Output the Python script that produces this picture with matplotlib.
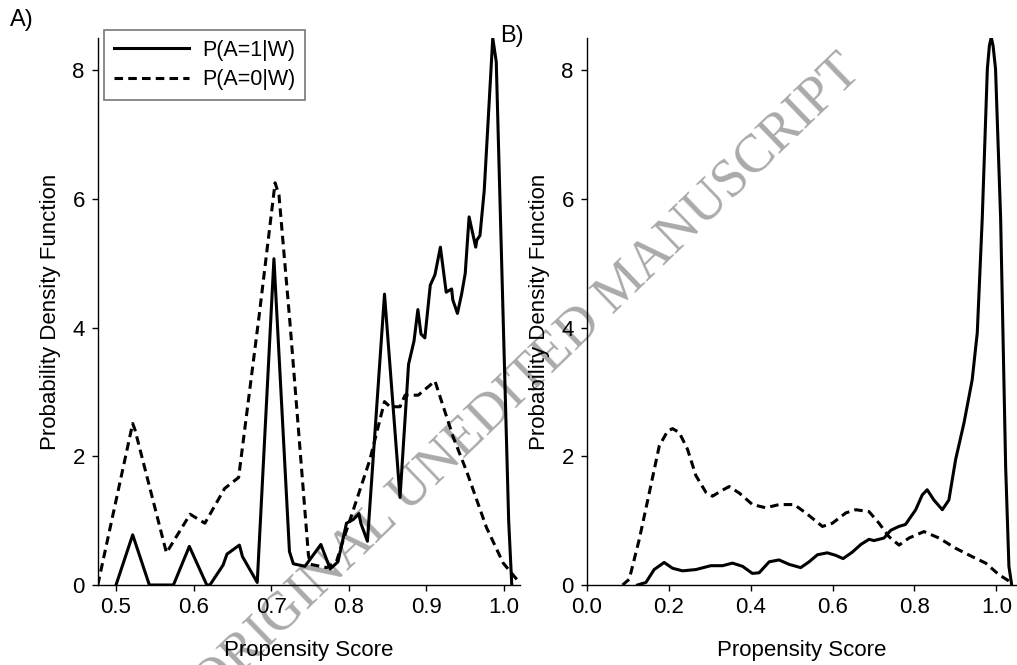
import matplotlib
matplotlib.use("Agg")
import matplotlib.pyplot as plt

plt.rcParams['font.family'] = ['Liberation Sans', 'DejaVu Sans']

# Panel A: raw density of the propensity score
a_treated_x = [0.500, 0.5215, 0.543, 0.574, 0.5945, 0.617, 0.621, 0.638, 0.643, 0.659,
               0.663, 0.682, 0.7035, 0.7235, 0.7285, 0.7435, 0.764, 0.776, 0.786, 0.797,
               0.806, 0.813, 0.8155, 0.824, 0.846, 0.866, 0.877, 0.884, 0.889, 0.893,
               0.898, 0.905, 0.911, 0.918, 0.9255, 0.9325, 0.934, 0.940, 0.9455, 0.950,
               0.955, 0.9635, 0.965, 0.969, 0.9745, 0.9855, 0.990, 0.999, 1.006, 1.010]
a_treated_y = [0.0, 0.78, 0.0, 0.0, 0.60, 0.0, 0.0, 0.31, 0.48, 0.62,
               0.44, 0.04, 5.07, 0.52, 0.33, 0.29, 0.63, 0.25, 0.36, 0.96,
               1.02, 1.11, 0.96, 0.68, 4.52, 1.36, 3.43, 3.79, 4.28, 3.90,
               3.84, 4.66, 4.82, 5.25, 4.55, 4.60, 4.43, 4.22, 4.53, 4.84,
               5.72, 5.25, 5.36, 5.43, 6.13, 8.50, 8.13, 4.10, 1.00, 0.0]

a_control_x = [0.4765, 0.5215, 0.5245, 0.565, 0.5955, 0.6145, 0.640, 0.658, 0.6845, 0.705,
               0.710, 0.724, 0.748, 0.751, 0.7715, 0.784, 0.7915, 0.8015, 0.827, 0.846,
               0.853, 0.866, 0.8725, 0.8895, 0.911, 0.9345, 0.952, 0.9775, 0.999, 1.010,
               1.0205]
a_control_y = [0.0, 2.51, 2.41, 0.50, 1.10, 0.96, 1.50, 1.67, 4.19, 6.25,
               6.06, 4.10, 0.46, 0.32, 0.27, 0.36, 0.65, 1.01, 1.94, 2.85,
               2.77, 2.77, 2.95, 2.95, 3.17, 2.30, 1.76, 0.89, 0.34, 0.18,
               0.03]

# Panel B: smoothed density
b_treated_x = [0.1235, 0.144, 0.164, 0.1885, 0.209, 0.2335, 0.266, 0.3025, 0.331, 0.3555,
               0.380, 0.404, 0.4205, 0.445, 0.469, 0.494, 0.522, 0.5425, 0.563, 0.587,
               0.608, 0.6255, 0.648, 0.669, 0.689, 0.701, 0.7255, 0.742, 0.762, 0.778,
               0.803, 0.819, 0.831, 0.8475, 0.868, 0.884, 0.9005, 0.921, 0.941, 0.9534,
               0.9655, 0.978, 0.983, 0.9875, 0.992, 0.998, 1.0105, 1.0145, 1.0227, 1.0307,
               1.0375]
b_treated_y = [0.0, 0.04, 0.24, 0.35, 0.26, 0.22, 0.24, 0.30, 0.30, 0.34,
               0.29, 0.18, 0.19, 0.36, 0.39, 0.32, 0.27, 0.36, 0.47, 0.50,
               0.46, 0.41, 0.51, 0.63, 0.71, 0.69, 0.73, 0.85, 0.91, 0.94,
               1.17, 1.40, 1.48, 1.32, 1.17, 1.32, 1.95, 2.52, 3.19, 3.92,
               5.69, 8.02, 8.38, 8.51, 8.38, 8.02, 5.69, 4.43, 1.84, 0.29,
               0.0]

b_control_x = [0.0869, 0.1032, 0.1277, 0.1521, 0.1765, 0.1967, 0.2089, 0.2253, 0.2455, 0.2660,
               0.2905, 0.3066, 0.3271, 0.3473, 0.3717, 0.4042, 0.4369, 0.4694, 0.5060, 0.5345,
               0.5751, 0.5995, 0.6322, 0.6566, 0.6890, 0.7134, 0.7378, 0.7622, 0.7866, 0.8232,
               0.8598, 0.9007, 0.9412, 0.9739, 1.0064, 1.0388]
b_control_y = [0.0, 0.09, 0.71, 1.43, 2.16, 2.39, 2.43, 2.37, 2.11, 1.70,
               1.44, 1.38, 1.46, 1.53, 1.43, 1.25, 1.20, 1.25, 1.25, 1.12,
               0.91, 0.96, 1.12, 1.17, 1.14, 0.96, 0.75, 0.62, 0.73, 0.83,
               0.73, 0.57, 0.44, 0.34, 0.16, 0.03]

labels = ['P(A=1|W)', 'P(A=0|W)']

W, H = 1017, 665
fig = plt.figure(figsize=(W / 100, H / 100), dpi=100)
axA = fig.add_axes([98 / W, 80 / H, (520 - 98) / W, 547 / H])
axB = fig.add_axes([587 / W, 80 / H, (1016 - 587) / W, 547 / H])

dash = (0, (2.8, 1.7))
lw = 2.2
fs = 16

for ax in (axA, axB):
    ax.set_facecolor('none')
    for s in ('top', 'right'):
        ax.spines[s].set_visible(False)
    for s in ('left', 'bottom'):
        ax.spines[s].set_linewidth(1.0)
    ax.tick_params(direction='out', length=4.5, width=1.0, labelsize=fs, pad=4)
    ax.tick_params(axis='y', pad=5)
    ax.set_ylim(0, 8.5)
    ax.set_yticks([0, 2, 4, 6, 8])
    ax.set_xlabel('Propensity Score', fontsize=fs, labelpad=16)
    ax.set_ylabel('Probability Density Function', fontsize=fs, labelpad=8)

axA.plot(a_treated_x, a_treated_y, color='black', lw=lw, label=labels[0])
axA.plot(a_control_x, a_control_y, color='black', lw=lw, ls=dash, label=labels[1])
axA.set_xlim(0.4768, 1.0206)
axA.set_xticks([0.5, 0.6, 0.7, 0.8, 0.9, 1.0])
axA.set_xticklabels(['0.5', '0.6', '0.7', '0.8', '0.9', '1.0'])

axB.plot(b_treated_x, b_treated_y, color='black', lw=lw)
axB.plot(b_control_x, b_control_y, color='black', lw=lw, ls=dash)
axB.set_xlim(0, 1.048)
axB.set_xticks([0.0, 0.2, 0.4, 0.6, 0.8, 1.0])
axB.set_xticklabels(['0.0', '0.2', '0.4', '0.6', '0.8', '1.0'])

leg = axA.legend(loc='upper left', bbox_to_anchor=(104 / W, 1 - 30 / H),
                 bbox_transform=fig.transFigure, borderaxespad=0,
                 fancybox=False, fontsize=15.5, handlelength=3.5,
                 handletextpad=0.6, borderpad=0.45, labelspacing=0.4)
leg.get_frame().set_edgecolor('#555555')
leg.get_frame().set_linewidth(1.2)

fig.text(10 / W, 1 - 20 / H, 'A)', fontsize=17, va='center', ha='left')
fig.text(500 / W, 1 - 36 / H, 'B)', fontsize=17, va='center', ha='left')

# watermark, runs off the bottom edge as in the original
fig.text(528 / W, 1 - 378 / H, 'ORIGINAL UNEDITED MANUSCRIPT', family='Liberation Serif',
         fontsize=38.8, color='#aaaaaa', rotation=44, rotation_mode='anchor',
         ha='center', va='center', zorder=-1)

fig.savefig('out.png', dpi=100)
